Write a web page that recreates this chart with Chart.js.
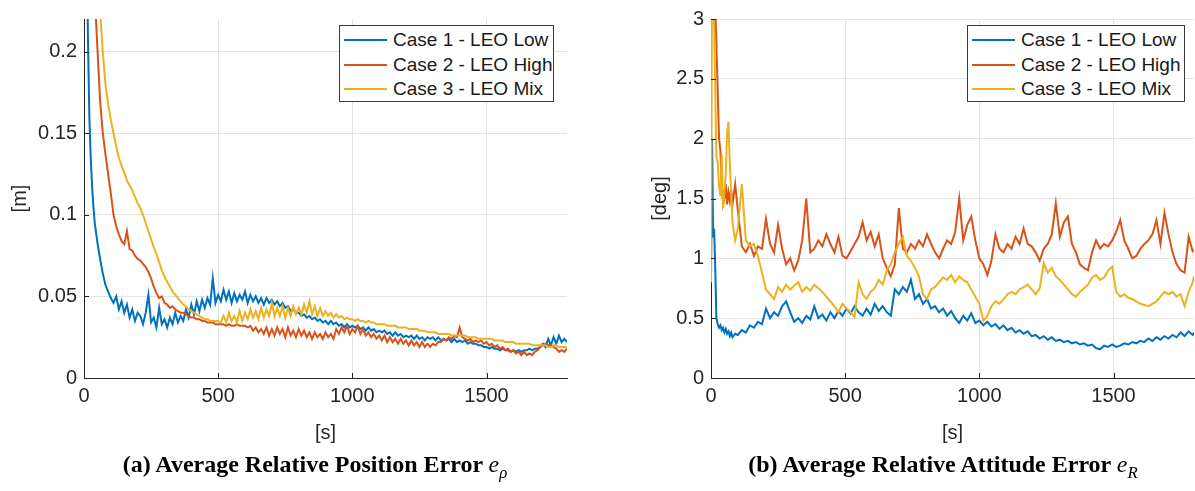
<!DOCTYPE html>
<html lang="en">
<head>
<meta charset="UTF-8">
<title>Average Relative Errors</title>
<script src="https://cdn.jsdelivr.net/npm/chart.js"></script>
<style>
  body { margin: 0; background: #fff; }
  #page { position: relative; width: 1195px; height: 491px; overflow: hidden; font-family: "Liberation Sans", Arial, sans-serif; }
  .panel { position: absolute; top: 0; height: 455px; }
  #posBox { left: 0; width: 600px; }
  #attBox { left: 640px; width: 555px; }
  .legend { position: absolute; top: 25px; height: 77px; background: #fff; border: 1px solid #3a3a3a; box-sizing: border-box; }
  .legend .row { position: absolute; left: 0; height: 24px; line-height: 24px; font-size: 19px; color: #1a1a1a; white-space: nowrap; }
  .legend .swatch { position: absolute; left: 4px; top: 11px; width: 43px; height: 2px; }
  .legend .txt { position: absolute; left: 53px; top: 0; }
  .caption { position: absolute; top: 451px; width: 600px; text-align: center; font: bold 24px "Liberation Serif", "Times New Roman", serif; color: #000; }
  .caption .m { font-weight: normal; font-style: italic; }
  .caption sub { font-size: 70%; }
</style>
</head>
<body>
<div id="page">
  <div class="panel" id="posBox"><canvas id="posChart"></canvas></div>
  <div class="panel" id="attBox"><canvas id="attChart"></canvas></div>
  <div class="legend" id="posLegend" style="left:339px;width:215px"></div>
  <div class="legend" id="attLegend" style="left:967px;width:218px"></div>
  <div class="caption" style="left:15px">(a) Average Relative Position Error <span class="m">e<sub>ρ</sub></span></div>
  <div class="caption" style="left:643px">(b) Average Relative Attitude Error <span class="m">e<sub>R</sub></span></div>
</div>
<script>
// series labels and colours (MATLAB default order)
const caseLabels = ['Case 1 - LEO Low', 'Case 2 - LEO High', 'Case 3 - LEO Mix'];
const caseColors = ['#0072BD', '#D95319', '#EDB120'];

const xTicks = [0, 500, 1000, 1500];
const posYTicks = [0, 0.05, 0.1, 0.15, 0.2];
const attYTicks = [0, 0.5, 1, 1.5, 2, 2.5, 3];

// (a) position error [m]
const posTime = [0, 5, 10, 15, 20, 25, 30, 35, 40,
  50, 60, 70, 80, 90, 100, 110, 120, 130, 140, 150, 160, 170, 180, 190, 200,
  210, 220, 230, 240, 250, 260, 270, 280, 290, 300,
  310, 320, 330, 340, 350, 360, 370, 380, 390, 400,
  410, 420, 430, 440, 450, 460, 470, 480, 490, 500,
  510, 520, 530, 540, 550, 560, 570, 580, 590, 600,
  610, 620, 630, 640, 650, 660, 670, 680, 690, 700,
  710, 720, 730, 740, 750, 760, 770, 780, 790, 800,
  810, 820, 830, 840, 850, 860, 870, 880, 890, 900,
  910, 920, 930, 940, 950, 960, 970, 980, 990, 1000,
  1010, 1020, 1030, 1040, 1050, 1060, 1070, 1080, 1090, 1100,
  1110, 1120, 1130, 1140, 1150, 1160, 1170, 1180, 1190, 1200,
  1210, 1220, 1230, 1240, 1250, 1260, 1270, 1280, 1290, 1300,
  1310, 1320, 1330, 1340, 1350, 1360, 1370, 1380, 1390, 1400,
  1410, 1420, 1430, 1440, 1450, 1460, 1470, 1480, 1490, 1500,
  1510, 1520, 1530, 1540, 1550, 1560, 1570, 1580, 1590, 1600,
  1610, 1620, 1630, 1640, 1650, 1660, 1670, 1680, 1690, 1700,
  1710, 1720, 1730, 1740, 1750, 1760, 1770, 1780, 1790, 1800];
const posCase1 = [0.6, 0.4, 0.27, 0.205, 0.16, 0.135, 0.118, 0.105, 0.095,
  0.083, 0.073, 0.064, 0.057, 0.053, 0.049, 0.046, 0.050, 0.042, 0.047, 0.040, 0.045, 0.037, 0.042, 0.035, 0.040,
  0.038, 0.033, 0.040, 0.051, 0.034, 0.037, 0.031, 0.043, 0.033, 0.036,
  0.031, 0.037, 0.033, 0.040, 0.034, 0.038, 0.035, 0.042, 0.037, 0.045,
  0.039, 0.047, 0.041, 0.048, 0.043, 0.049, 0.045, 0.061, 0.046, 0.051,
  0.047, 0.054, 0.048, 0.053, 0.046, 0.052, 0.047, 0.051, 0.048, 0.053,
  0.046, 0.051, 0.047, 0.050, 0.046, 0.049, 0.045, 0.049, 0.046, 0.048,
  0.045, 0.047, 0.044, 0.046, 0.043, 0.044, 0.041, 0.042, 0.040, 0.040,
  0.038, 0.039, 0.037, 0.038, 0.036, 0.037, 0.035, 0.036, 0.034, 0.035,
  0.033, 0.035, 0.033, 0.034, 0.032, 0.033, 0.031, 0.033, 0.031, 0.032,
  0.031, 0.032, 0.030, 0.031, 0.029, 0.031, 0.029, 0.030, 0.028, 0.029,
  0.028, 0.029, 0.027, 0.028, 0.026, 0.028, 0.026, 0.027, 0.025, 0.026,
  0.025, 0.026, 0.024, 0.026, 0.024, 0.025, 0.023, 0.025, 0.024, 0.025,
  0.023, 0.025, 0.023, 0.024, 0.023, 0.024, 0.022, 0.024, 0.022, 0.023,
  0.022, 0.023, 0.021, 0.022, 0.021, 0.021, 0.020, 0.020, 0.019, 0.019,
  0.018, 0.019, 0.018, 0.018, 0.017, 0.018, 0.017, 0.017, 0.016, 0.017,
  0.016, 0.017, 0.016, 0.017, 0.017, 0.018, 0.017, 0.018, 0.018, 0.019,
  0.021, 0.019, 0.024, 0.020, 0.025, 0.021, 0.026, 0.022, 0.024, 0.022];
const posCase2 = [1.0, 0.8, 0.6, 0.5, 0.42, 0.36, 0.31, 0.27, 0.235,
  0.202, 0.17, 0.15, 0.137, 0.125, 0.113, 0.100, 0.093, 0.088, 0.084, 0.082, 0.090, 0.079, 0.078, 0.075, 0.073,
  0.072, 0.070, 0.068, 0.065, 0.061, 0.056, 0.052, 0.049, 0.050, 0.046,
  0.045, 0.043, 0.044, 0.042, 0.041, 0.040, 0.040, 0.039, 0.038, 0.037,
  0.037, 0.036, 0.036, 0.035, 0.035, 0.034, 0.034, 0.034, 0.033, 0.033,
  0.033, 0.033, 0.032, 0.033, 0.032, 0.032, 0.033, 0.032, 0.032, 0.032,
  0.031, 0.032, 0.029, 0.031, 0.028, 0.030, 0.027, 0.031, 0.026, 0.030,
  0.026, 0.031, 0.027, 0.030, 0.025, 0.031, 0.026, 0.029, 0.025, 0.030,
  0.026, 0.029, 0.025, 0.028, 0.024, 0.028, 0.025, 0.027, 0.024, 0.028,
  0.025, 0.027, 0.024, 0.030, 0.027, 0.031, 0.028, 0.032, 0.027, 0.030,
  0.028, 0.032, 0.027, 0.030, 0.026, 0.028, 0.025, 0.027, 0.024, 0.026,
  0.023, 0.026, 0.022, 0.025, 0.022, 0.024, 0.021, 0.024, 0.021, 0.023,
  0.020, 0.023, 0.020, 0.022, 0.019, 0.022, 0.019, 0.021, 0.019, 0.021,
  0.020, 0.022, 0.022, 0.024, 0.023, 0.025, 0.024, 0.026, 0.025, 0.031,
  0.025, 0.024, 0.023, 0.024, 0.022, 0.023, 0.022, 0.023, 0.021, 0.022,
  0.020, 0.021, 0.019, 0.020, 0.018, 0.019, 0.017, 0.018, 0.016, 0.017,
  0.015, 0.016, 0.014, 0.016, 0.014, 0.015, 0.014, 0.016, 0.017, 0.019,
  0.020, 0.021, 0.020, 0.020, 0.019, 0.018, 0.016, 0.017, 0.016, 0.018];
const posCase3 = [1.2, 1.0, 0.8, 0.65, 0.55, 0.47, 0.40, 0.35, 0.31,
  0.26, 0.225, 0.200, 0.180, 0.168, 0.158, 0.150, 0.142, 0.135, 0.130, 0.126, 0.121, 0.118, 0.115, 0.111, 0.107,
  0.104, 0.100, 0.095, 0.090, 0.085, 0.080, 0.076, 0.071, 0.066, 0.062,
  0.059, 0.056, 0.053, 0.051, 0.049, 0.047, 0.045, 0.044, 0.042, 0.041,
  0.040, 0.039, 0.038, 0.037, 0.036, 0.036, 0.035, 0.035, 0.035, 0.035,
  0.034, 0.038, 0.034, 0.040, 0.035, 0.038, 0.034, 0.041, 0.035, 0.040,
  0.036, 0.042, 0.037, 0.041, 0.036, 0.043, 0.037, 0.042, 0.038, 0.046,
  0.038, 0.043, 0.038, 0.044, 0.037, 0.043, 0.038, 0.044, 0.039, 0.043,
  0.039, 0.045, 0.040, 0.047, 0.039, 0.044, 0.038, 0.043, 0.038, 0.041,
  0.038, 0.040, 0.037, 0.039, 0.037, 0.038, 0.036, 0.037, 0.036, 0.036,
  0.035, 0.036, 0.035, 0.035, 0.034, 0.035, 0.034, 0.034, 0.033, 0.033,
  0.033, 0.033, 0.032, 0.032, 0.032, 0.032, 0.031, 0.031, 0.031, 0.031,
  0.030, 0.030, 0.030, 0.030, 0.029, 0.029, 0.029, 0.028, 0.028, 0.028,
  0.028, 0.027, 0.027, 0.027, 0.027, 0.027, 0.026, 0.026, 0.026, 0.026,
  0.026, 0.026, 0.025, 0.025, 0.025, 0.025, 0.024, 0.024, 0.024, 0.024,
  0.024, 0.024, 0.023, 0.023, 0.023, 0.023, 0.022, 0.022, 0.022, 0.022,
  0.021, 0.021, 0.021, 0.021, 0.021, 0.021, 0.020, 0.020, 0.020, 0.020,
  0.020, 0.020, 0.019, 0.019, 0.020, 0.020, 0.019, 0.019, 0.019, 0.019];

// (b) attitude error [deg]
const attTime = [0, 4, 8, 12, 16, 20, 25, 30, 35, 40, 45, 50, 55, 60, 65, 70, 75, 80, 90, 100,
  115, 130, 145, 160, 175, 190, 205, 220, 235, 250,
  265, 280, 295, 310, 325, 340, 355, 370, 385, 400,
  415, 430, 445, 460, 475, 490, 505, 520, 535, 550,
  565, 580, 595, 610, 625, 640, 655, 670, 685, 700,
  715, 730, 745, 760, 775, 790, 805, 820, 835, 850,
  865, 880, 895, 910, 925, 940, 955, 970, 985, 1000,
  1015, 1030, 1045, 1060, 1075, 1090, 1105, 1120, 1135, 1150,
  1165, 1180, 1195, 1210, 1225, 1240, 1255, 1270, 1285, 1300,
  1315, 1330, 1345, 1360, 1375, 1390, 1405, 1420, 1435, 1450,
  1465, 1480, 1495, 1510, 1525, 1540, 1555, 1570, 1585, 1600,
  1615, 1630, 1645, 1660, 1675, 1690, 1705, 1720, 1735, 1750,
  1765, 1780, 1795, 1800];
const attCase1 = [0.80, 2.00, 1.20, 1.22, 0.90, 0.50, 0.45, 0.42, 0.44, 0.40, 0.42, 0.38, 0.41, 0.37, 0.39, 0.35, 0.38, 0.34, 0.37, 0.36,
  0.40, 0.38, 0.44, 0.42, 0.47, 0.45, 0.58, 0.50, 0.55, 0.52,
  0.60, 0.64, 0.55, 0.47, 0.50, 0.46, 0.52, 0.49, 0.60, 0.50,
  0.53, 0.48, 0.55, 0.50, 0.56, 0.52, 0.58, 0.54, 0.60, 0.55,
  0.52, 0.58, 0.53, 0.62, 0.56, 0.60, 0.55, 0.52, 0.74, 0.70,
  0.76, 0.72, 0.82, 0.66, 0.70, 0.62, 0.66, 0.58, 0.60, 0.55,
  0.58, 0.52, 0.56, 0.50, 0.46, 0.52, 0.48, 0.54, 0.46, 0.48,
  0.44, 0.47, 0.43, 0.45, 0.41, 0.44, 0.40, 0.42, 0.38, 0.40,
  0.37, 0.39, 0.35, 0.36, 0.33, 0.35, 0.32, 0.34, 0.31, 0.32,
  0.30, 0.31, 0.29, 0.30, 0.28, 0.29, 0.27, 0.28, 0.25, 0.24,
  0.27, 0.26, 0.28, 0.26, 0.27, 0.29, 0.28, 0.30, 0.29, 0.31,
  0.30, 0.33, 0.31, 0.34, 0.32, 0.35, 0.33, 0.36, 0.34, 0.38,
  0.35, 0.39, 0.36, 0.38];
const attCase2 = [3.5, 3.5, 3.3, 3.2, 3.1, 2.8, 2.4, 2.0, 1.9, 1.6, 1.45, 1.5, 1.62, 1.45, 1.55, 1.48, 1.58, 1.45, 1.62, 1.40,
  1.10, 1.05, 1.12, 1.02, 1.10, 1.08, 1.33, 1.12, 1.05, 1.28,
  1.08, 0.95, 1.00, 0.90, 0.98, 1.15, 1.50, 1.05, 1.08, 1.15,
  1.10, 1.20, 1.12, 1.05, 1.18, 1.02, 1.00, 1.06, 1.12, 1.18,
  1.30, 1.15, 1.22, 1.10, 1.20, 1.00, 0.92, 0.85, 0.95, 1.42,
  1.08, 1.05, 1.12, 1.08, 1.15, 1.10, 1.20, 1.12, 1.05, 1.00,
  1.08, 1.15, 1.12, 1.22, 1.50, 1.15, 1.28, 1.35, 1.15, 1.00,
  0.95, 0.86, 0.98, 1.20, 1.08, 1.05, 1.12, 1.08, 1.18, 1.12,
  1.25, 1.12, 1.10, 1.05, 0.98, 1.08, 1.12, 1.20, 1.46, 1.18,
  1.30, 1.35, 1.12, 1.05, 0.95, 0.92, 0.90, 1.05, 1.15, 1.08,
  1.12, 1.10, 1.15, 1.22, 1.32, 1.15, 1.08, 1.00, 1.02, 1.08,
  1.12, 1.15, 1.20, 1.32, 1.12, 1.38, 1.20, 1.05, 0.95, 0.90,
  0.88, 1.18, 1.06, 1.07];
const attCase3 = [0.80, 3.5, 3.3, 2.9, 2.4, 1.85, 1.80, 1.60, 1.52, 1.87, 1.42, 1.55, 1.70, 2.05, 2.14, 1.80, 1.55, 1.30, 1.15, 1.25,
  1.62, 1.15, 1.10, 1.12, 1.02, 0.88, 0.74, 0.70, 0.66, 0.76,
  0.72, 0.78, 0.74, 0.77, 0.80, 0.72, 0.76, 0.73, 0.78, 0.75,
  0.72, 0.68, 0.64, 0.60, 0.55, 0.62, 0.58, 0.55, 0.51, 0.80,
  0.70, 0.66, 0.72, 0.75, 0.82, 0.78, 0.90, 0.95, 1.05, 1.12,
  1.18, 1.02, 0.98, 0.92, 0.85, 0.70, 0.66, 0.74, 0.76, 0.80,
  0.84, 0.82, 0.86, 0.80, 0.85, 0.82, 0.80, 0.74, 0.68, 0.62,
  0.48, 0.52, 0.60, 0.64, 0.62, 0.66, 0.70, 0.72, 0.70, 0.74,
  0.76, 0.78, 0.74, 0.70, 0.75, 0.96, 0.88, 0.92, 0.85, 0.82,
  0.78, 0.74, 0.70, 0.68, 0.72, 0.75, 0.78, 0.84, 0.86, 0.82,
  0.84, 0.90, 0.93, 0.72, 0.68, 0.70, 0.67, 0.66, 0.64, 0.62,
  0.61, 0.60, 0.62, 0.64, 0.68, 0.72, 0.70, 0.72, 0.68, 0.70,
  0.60, 0.72, 0.80, 0.85];

Chart.defaults.font.family = '"Liberation Sans", Arial, sans-serif';
Chart.defaults.color = '#262626';

// MATLAB style: short tick marks pointing into the axes
const innerTicks = {
  id: 'innerTicks',
  afterDraw(chart) {
    const { ctx, chartArea: a, scales: { x, y } } = chart;
    ctx.save();
    ctx.strokeStyle = '#262626';
    ctx.lineWidth = 1;
    ctx.beginPath();
    y.ticks.forEach(t => {
      const py = Math.round(y.getPixelForValue(t.value)) + 0.5;
      ctx.moveTo(a.left, py); ctx.lineTo(a.left + 5, py);
    });
    x.ticks.forEach(t => {
      const px = Math.round(x.getPixelForValue(t.value)) + 0.5;
      ctx.moveTo(px, a.bottom); ctx.lineTo(px, a.bottom - 5);
    });
    ctx.stroke();
    ctx.restore();
  }
};

function toPoints(t, v) {
  return t.map((x, i) => ({ x: x, y: v[i] }));
}

function makeChart(canvasId, time, series, yMax, yTicks, yTitle, yWidth, padRight) {
  const ctx = document.getElementById(canvasId).getContext('2d');
  return new Chart(ctx, {
    type: 'line',
    data: {
      datasets: series.map((s, i) => ({
        label: caseLabels[i],
        data: toPoints(time, s),
        borderColor: caseColors[i],
        borderWidth: 2,
        pointRadius: 0,
        tension: 0,
        order: series.length - i // case 3 drawn on top, like MATLAB
      }))
    },
    options: {
      responsive: true,
      maintainAspectRatio: false,
      animation: false,
      layout: { padding: { top: 10, right: padRight, left: 0, bottom: 0 } },
      plugins: { legend: { display: false }, tooltip: { enabled: false } },
      scales: {
        x: {
          type: 'linear', min: 0, max: 1800,
          afterBuildTicks: s => { s.ticks = xTicks.map(v => ({ value: v })); },
          afterFit: s => { s.height = 77; },
          grid: { color: '#e3e3e3', drawTicks: false },
          border: { color: '#262626', width: 1 },
          ticks: { callback: v => String(v), padding: 6, maxRotation: 0, font: { size: 20 } },
          title: { display: true, text: '[s]', font: { size: 20 }, padding: { top: 0, bottom: 10 } }
        },
        y: {
          type: 'linear', min: 0, max: yMax,
          afterBuildTicks: s => { s.ticks = yTicks.map(v => ({ value: v })); },
          afterFit: s => { s.width = yWidth; },
          grid: { color: '#e3e3e3', drawTicks: false },
          border: { color: '#262626', width: 1 },
          ticks: { callback: v => String(v), padding: 7, font: { size: 20 } },
          title: { display: true, text: yTitle, font: { size: 20 }, padding: { top: 8, bottom: 0 } }
        }
      }
    },
    plugins: [innerTicks]
  });
}

function buildLegend(id) {
  const box = document.getElementById(id);
  caseLabels.forEach((lab, i) => {
    const row = document.createElement('div');
    row.className = 'row';
    row.style.top = (2 + i * 24.5) + 'px';
    row.innerHTML = '<span class="swatch" style="background:' + caseColors[i] + '"></span><span class="txt">' + lab + '</span>';
    box.appendChild(row);
  });
}

makeChart('posChart', posTime, [posCase1, posCase2, posCase3], 0.22, posYTicks, '[m]', 84, 33);
makeChart('attChart', attTime, [attCase1, attCase2, attCase3], 3, attYTicks, '[deg]', 71, 1);
buildLegend('posLegend');
buildLegend('attLegend');
</script>
</body>
</html>
